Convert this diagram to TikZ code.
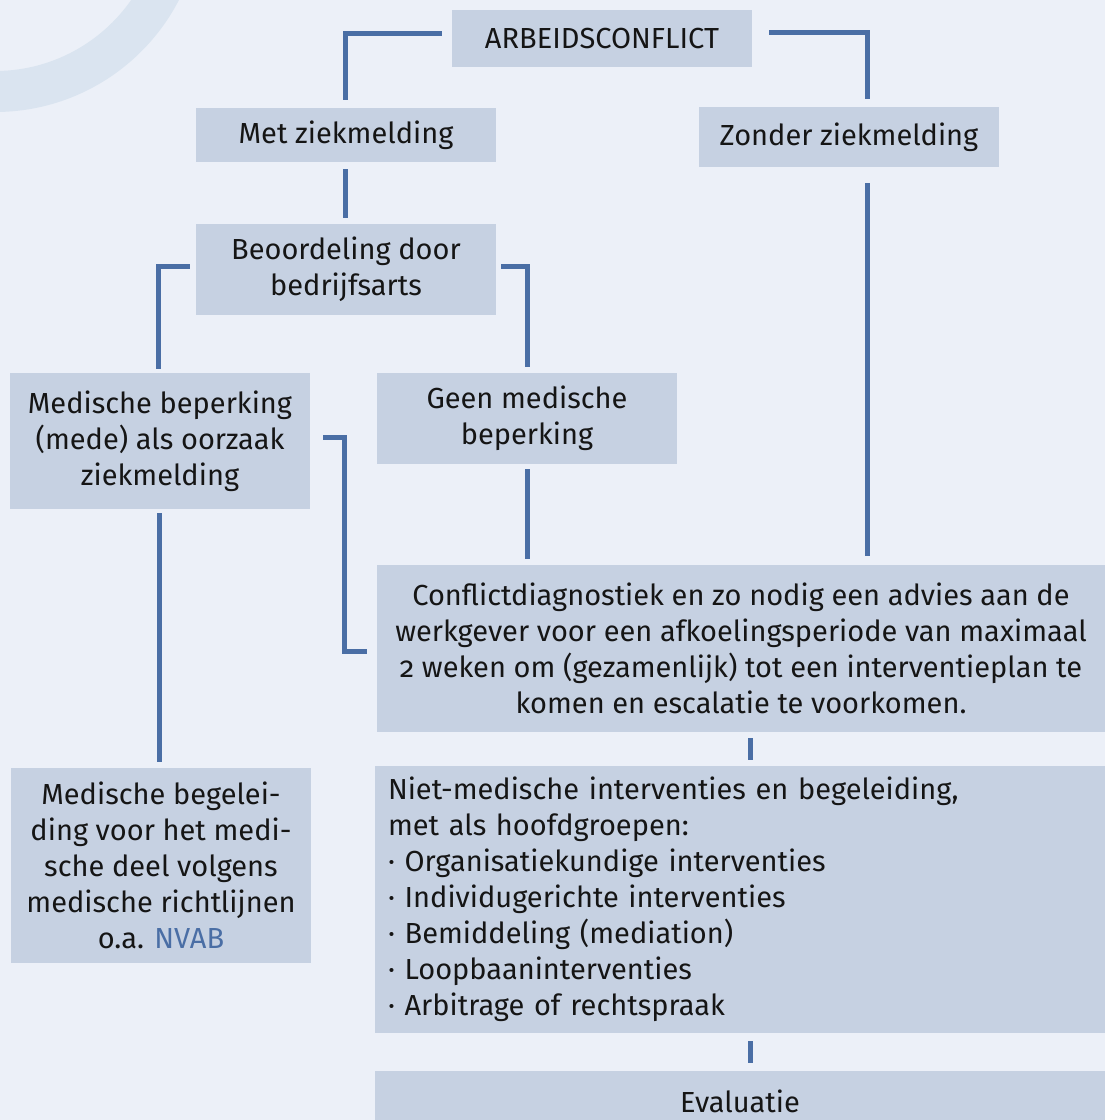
\documentclass[tikz,border=0pt]{standalone}
\usepackage{fontspec}
\setmainfont{Fira Sans}[Numbers=OldStyle]
\usetikzlibrary{calc}

\definecolor{bgcol}{HTML}{ECF0F8}
\definecolor{ringcol}{HTML}{DAE4F0}
\definecolor{boxcol}{HTML}{C6D1E2}
\definecolor{linecol}{HTML}{4A6EA5}
\definecolor{textcol}{HTML}{151515}

\tikzset{
	box/.style={fill=boxcol, inner sep=0pt, align=center, text=textcol,
		font=\fontsize{29}{36}\selectfont},
	link/.style={draw=linecol, line width=5pt},
}

\begin{document}
\begin{tikzpicture}[x=1pt, y=-1pt]
	\useasboundingbox (0,0) rectangle (1105,1120);
	\fill[bgcol] (0,0) rectangle (1105,1120);
	\begin{scope}
		\clip (0,0) rectangle (1105,1120);
		\fill[ringcol, even odd rule] (-5,-95) circle[radius=207pt] (-5,-95) circle[radius=166pt];
	\end{scope}
	
	% boxes
	\node[box, minimum width=300pt, minimum height=57pt] (arb) at (602,38.5) {ARBEIDSCONFLICT};
	\node[box, minimum width=300pt, minimum height=54pt] (met) at (346,135) {Met ziekmelding};
	\node[box, minimum width=300pt, minimum height=60pt] (zonder) at (849,137) {Zonder ziekmelding};
	\node[box, minimum width=300pt, minimum height=91pt] (beoord) at (346,269.5) {Beoordeling door\\bedrijfsarts};
	\node[box, minimum width=300pt, minimum height=136pt] (medbep) at (160,441) {Medische beperking\\(mede) als oorzaak\\ziekmelding};
	\node[box, minimum width=300pt, minimum height=91pt] (geen) at (527,418.5) {Geen medische\\beperking};
	\node[box, minimum width=728pt, minimum height=167pt] (conflict) at (741,648.5)
		{Conflictdiagnostiek en zo nodig een advies aan de\\werkgever voor een afkoelingsperiode van maximaal\\2 weken om (gezamenlijk) tot een interventieplan te\\komen en escalatie te voorkomen.};
	\node[box, minimum width=300pt, minimum height=195pt] (medbeg) at (161,865.5)
		{Medische begelei-\\ding voor het medi-\\sche deel volgens\\medische richtlijnen\\o.a. \textcolor{linecol}{NVAB}};
	\node[box, align=left, text width=704pt, inner xsep=13pt, minimum height=267pt] (niet) at (740,899.5)
		{Niet-medische interventies en begeleiding,\\met als hoofdgroepen:\\· Organisatiekundige interventies\\· Individugerichte interventies\\· Bemiddeling (mediation)\\· Loopbaaninterventies\\· Arbitrage of rechtspraak};
	\node[box, minimum width=730pt, minimum height=60pt] (eval) at (740,1101) {Evaluatie};
	
	% connectors
	\draw[link] ($(arb.west)+(-10,-5)$) -| ($(met.north)+(-1,-8)$);
	\draw[link] ($(arb.east)+(17,-6)$) -| ($(zonder.north)+(18,-8)$);
	\draw[link] ($(met.south)+(-1,7)$) -- ($(beoord.north)+(-1,-6)$);
	\draw[link] ($(beoord.west)+(-6,-3.5)$) -| ($(medbep.north)+(-2,-4)$);
	\draw[link] ($(beoord.east)+(5,-3.5)$) -| ($(geen.north)+(0,-6)$);
	\draw[link] ($(geen.south)+(0,5)$) -- ($(geen.south |- conflict.north)+(0,-6)$);
	\draw[link] ($(zonder.south)+(18,16)$) -- ($(conflict.north -| zonder.south)+(18,-9)$);
	\draw[link] ($(medbep.east)+(13,-4)$) -| ($(conflict.west)+(-32,2.5)$) -- ($(conflict.west)+(-10,2.5)$);
	\draw[link] ($(medbep.south)+(-1,4)$) -- ($(medbeg.north)+(-2,-6)$);
	\draw[link] ($(conflict.south)+(9,6)$) -- ($(niet.north)+(10,-6)$);
	\draw[link] ($(niet.south)+(10,8)$) -- ($(eval.north)+(10,-8)$);
\end{tikzpicture}
\end{document}
